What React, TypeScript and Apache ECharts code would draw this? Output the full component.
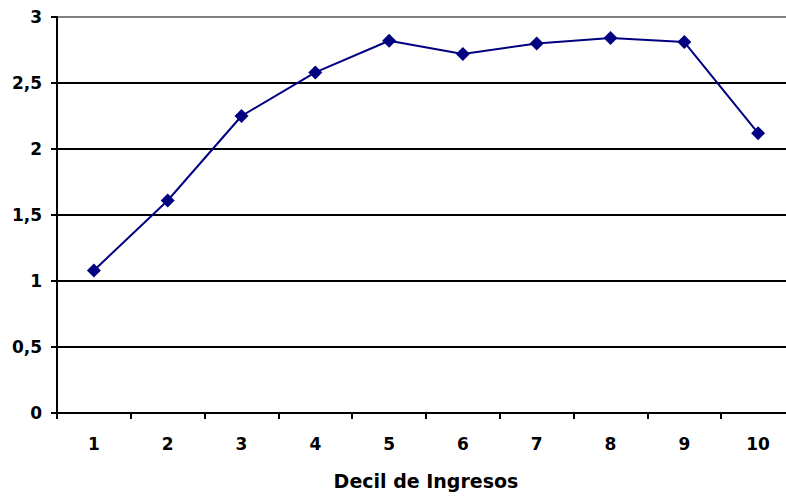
import React, { useEffect, useRef } from "react";
import * as echarts from "echarts";

const categories = ["1", "2", "3", "4", "5", "6", "7", "8", "9", "10"];
const values = [1.08, 1.61, 2.25, 2.58, 2.82, 2.72, 2.8, 2.84, 2.81, 2.12];
const xAxisTitle = "Decil de Ingresos";

export default function App() {
  const ref = useRef<HTMLDivElement>(null);
  useEffect(() => {
    if (!ref.current) return;
    const chart = echarts.init(ref.current, undefined, { renderer: "svg" });
    const font = "DejaVu Sans, Liberation Sans, Arial, sans-serif";
    chart.setOption({
      animation: false,
      backgroundColor: "#fff",
      grid: { left: 57, right: 0, top: 17, bottom: 84, containLabel: false },
      xAxis: {
        type: "category",
        data: categories,
        boundaryGap: true,
        name: xAxisTitle,
        nameLocation: "middle",
        nameGap: 58,
        nameTextStyle: { fontFamily: font, fontSize: 19, fontWeight: "bold", color: "#000" },
        axisLine: { lineStyle: { color: "#000", width: 2 } },
        axisTick: { show: true, length: 6, lineStyle: { color: "#000", width: 2 } },
        axisLabel: { fontFamily: font, fontSize: 17, fontWeight: "bold", color: "#000", margin: 22 },
        splitLine: { show: false },
      },
      yAxis: {
        type: "value",
        min: 0,
        max: 3,
        interval: 0.5,
        axisLine: { show: true, lineStyle: { color: "#000", width: 2 } },
        axisTick: { show: true, length: 6, lineStyle: { color: "#000", width: 2 } },
        axisLabel: {
          fontFamily: font,
          fontSize: 17,
          fontWeight: "bold",
          color: "#000",
          margin: 15,
          formatter: (v: number) => String(v).replace(".", ","),
        },
        splitLine: {
          show: true,
          lineStyle: {
            color: ["#000", "#000", "#000", "#000", "#000", "#000", "#808080"],
            width: 2,
          },
        },
      },
      series: [
        {
          type: "line",
          data: values,
          symbol: "diamond",
          symbolSize: 14,
          lineStyle: { color: "#000080", width: 2 },
          itemStyle: { color: "#000080" },
        },
      ],
    });
    return () => chart.dispose();
  }, []);
  return (
    <div
      style={{
        position: "fixed",
        left: 0,
        top: 0,
        width: 786,
        height: 497,
        overflow: "hidden",
        background: "#fff",
      }}
    >
      <div ref={ref} style={{ width: 795, height: 497 }} />
    </div>
  );
}
